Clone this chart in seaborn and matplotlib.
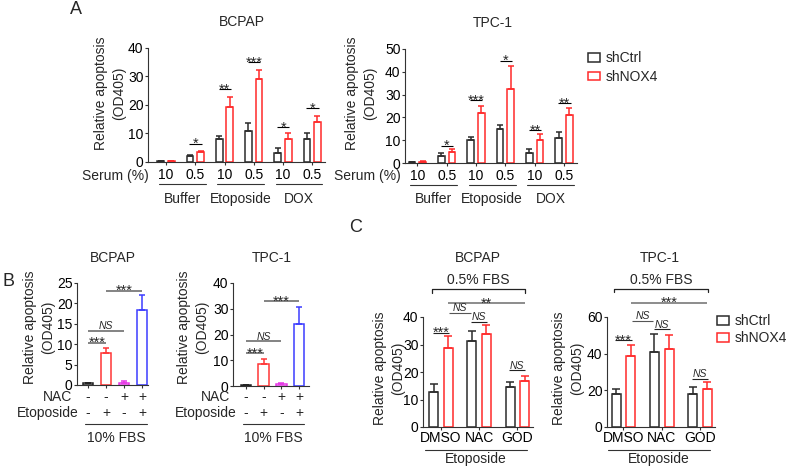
import numpy as np
import pandas as pd
import matplotlib
matplotlib.use("Agg")
import matplotlib.pyplot as plt
import seaborn as sns
from matplotlib.patches import Patch

# ---------------- DATA ----------------
genotypes = ["shCtrl", "shNOX4"]
geno_colors = {"shCtrl": "#2b2b2b", "shNOX4": "#ff2a2a"}

a_groups = ["Buffer 10", "Buffer 0.5", "Etoposide 10", "Etoposide 0.5", "DOX 10", "DOX 0.5"]
a_serum = ["10", "0.5", "10", "0.5", "10", "0.5"]
a_treat = ["Buffer", "Etoposide", "DOX"]

a_bcpap_ctrl = [0.4, 2.1, 7.9, 11.0, 3.2, 8.2]
a_bcpap_ctrl_err = [0.1, 0.3, 1.2, 2.8, 1.7, 1.8]
a_bcpap_nox4 = [0.3, 3.5, 19.2, 29.2, 8.0, 14.0]
a_bcpap_nox4_err = [0.1, 0.2, 3.6, 3.1, 2.0, 2.0]
a_bcpap_sig = ["", "*", "**", "***", "*", "*"]
a_bcpap_sig_y = [0, 6.4, 25.5, 35.1, 12.2, 18.8]

a_tpc_ctrl = [0.4, 3.0, 10.0, 15.0, 4.2, 11.0]
a_tpc_ctrl_err = [0.2, 1.2, 1.3, 1.5, 1.8, 2.6]
a_tpc_nox4 = [0.5, 4.9, 21.8, 32.6, 9.9, 20.9]
a_tpc_nox4_err = [0.5, 1.4, 3.3, 9.8, 2.7, 3.2]
a_tpc_sig = ["", "*", "***", "*", "**", "**"]
a_tpc_sig_y = [0, 7.6, 27.6, 44.9, 14.5, 26.3]

b_conds = ["ctrl", "eto", "nac", "nac_eto"]
b_nac = ["-", "-", "+", "+"]
b_eto = ["-", "+", "-", "+"]
b_colors = ["#222222", "#ff3636", "#e636e6", "#3c3cff"]
b_bcpap_vals = [0.5, 7.9, 0.6, 18.5]
b_bcpap_err = [0.1, 1.1, 0.3, 3.5]
b_bcpap_sig = [(0, 1, "***", 10.4), (0, 2, "NS", 13.3), (1, 3, "***", 23.1)]
b_tpc_vals = [0.3, 8.7, 0.6, 23.9]
b_tpc_err = [0.1, 1.6, 0.4, 6.6]
b_tpc_sig = [(0, 1, "***", 12.8), (0, 2, "NS", 17.3), (1, 3, "***", 33.0)]

c_groups = ["DMSO", "NAC", "GOD"]
c_bcpap_ctrl = [12.8, 31.4, 14.6]
c_bcpap_ctrl_err = [2.9, 3.6, 1.6]
c_bcpap_nox4 = [28.6, 33.9, 16.9]
c_bcpap_nox4_err = [4.5, 3.3, 1.7]
c_bcpap_sig = {"within": [("***", 34.3), ("NS", 38.2), ("NS", 20.6)],
               "cross": ("NS", 41.4), "long": ("**", 45.0), "bracket": 50.2}
c_tpc_ctrl = [18.0, 40.8, 17.8]
c_tpc_ctrl_err = [2.5, 10.2, 4.1]
c_tpc_nox4 = [39.0, 42.8, 20.8]
c_tpc_nox4_err = [6.0, 7.6, 3.7]
c_tpc_sig = {"within": [("***", 47.3), ("NS", 53.2), ("NS", 26.1)],
             "cross": ("NS", 57.8), "long": ("***", 67.8), "bracket": 75.5}

# ---------------- STYLE ----------------
sns.set_style("ticks")
plt.rcParams["font.family"] = ["Liberation Sans", "DejaVu Sans"]
plt.rcParams["axes.linewidth"] = 0.8
plt.rcParams["axes.edgecolor"] = "#333333"
plt.rcParams["xtick.color"] = "#333333"
plt.rcParams["ytick.color"] = "#333333"
plt.rcParams["xtick.labelcolor"] = "black"
plt.rcParams["ytick.labelcolor"] = "black"

W, H = 788, 466
fig = plt.figure(figsize=(W / 100, H / 100), dpi=100)
FS = 10


def add_ax(box):
    l, t, r, b = box
    return fig.add_axes([l / W, 1 - b / H, (r - l) / W, (b - t) / H])


def ftext(x, y, s, **kw):
    fig.text(x / W, 1 - y / H, s, **kw)


def yfrac(box, y):
    l, t, r, b = box
    return (b - y) / (b - t)


def style_axes(ax, ymax, ystep, xlim):
    ax.set_ylim(0, ymax)
    ax.set_yticks(np.arange(0, ymax + 0.01, ystep))
    ax.set_xlim(*xlim)
    ax.set_xlabel("")
    ax.set_ylabel("")
    sns.despine(ax=ax)
    ax.tick_params(axis="both", labelsize=FS, length=2.2, width=0.8, pad=1)


def sig_line(ax, x0, x1, y, label, color="black", lw=0.8):
    ax.plot([x0, x1], [y, y], color=color, lw=lw, clip_on=False,
            solid_capstyle="butt")
    xc = (x0 + x1) / 2
    if label == "NS":
        ax.annotate("NS", xy=(xc, y), xytext=(0, 1.2), textcoords="offset points",
                    ha="center", va="baseline", fontsize=7.5, style="italic",
                    annotation_clip=False)
    elif label:
        ax.annotate(label, xy=(xc, y), xytext=(0, -3.2), textcoords="offset points",
                    ha="center", va="baseline", fontsize=10.5, annotation_clip=False)


def bar_centers(ax):
    out = []
    for cont in ax.containers:
        pts = sorted([(p.get_x() + p.get_width() / 2, p.get_height()) for p in cont.patches])
        out.append(pts)
    return out


def add_errbars(ax, centers, errs, colors, capsize, lw=1.1):
    for pts, err, col in zip(centers, errs, colors):
        xs = [p[0] for p in pts]
        ys = [p[1] for p in pts]
        ax.errorbar(xs, ys, yerr=[np.zeros(len(err)), err], fmt="none", ecolor=col,
                    elinewidth=lw, capsize=capsize, capthick=lw, clip_on=False, zorder=3)


# ---------------- PANEL A ----------------
def panel_a(box, title, title_xy, ylab_xy, ctrl, ctrl_err, nox4, nox4_err, sig, sig_y,
            ymax, ystep, xlim, serum_x):
    ax = add_ax(box)
    df = pd.DataFrame({"group": a_groups * 2,
                       "genotype": ["shCtrl"] * 6 + ["shNOX4"] * 6,
                       "value": ctrl + nox4})
    sns.barplot(data=df, x="group", y="value", hue="genotype", order=a_groups,
                hue_order=genotypes, palette=geno_colors, saturation=1, fill=False,
                width=0.72, gap=0.36, errorbar=None, linewidth=1.1, legend=False, ax=ax)
    style_axes(ax, ymax, ystep, xlim)
    ax.set_xticks(range(len(a_groups)))
    ax.set_xticklabels(a_serum)
    ax.tick_params(axis="x", pad=2)
    cen = bar_centers(ax)
    add_errbars(ax, cen, [ctrl_err, nox4_err], [geno_colors[g] for g in genotypes], 2.2)
    for i, (s, y) in enumerate(zip(sig, sig_y)):
        if s:
            sig_line(ax, cen[0][i][0] - 0.02, cen[1][i][0] + 0.04, y, s)
    trans = ax.get_xaxis_transform()
    yl = yfrac(box, 184.5)
    yt = yfrac(box, 199)
    for k, name in enumerate(a_treat):
        x0, x1 = 2 * k - 0.25, 2 * k + 1 + 0.35
        ax.plot([x0, x1], [yl, yl], color="#333333", lw=0.8, transform=trans, clip_on=False)
        ax.text((x0 + x1) / 2, yt, name, transform=trans, ha="center", va="center", fontsize=FS)
    ftext(serum_x, 176, "Serum (%)", ha="right", va="center", fontsize=FS)
    ftext(*title_xy, title, ha="center", va="center", fontsize=FS)
    ftext(*ylab_xy, "Relative apoptosis\n(OD405)", ha="center", va="center",
          rotation=90, fontsize=FS, linespacing=1.35)
    return ax


A1 = (148, 48, 325, 162)
A2 = (405, 49, 577, 163)
panel_a(A1, "BCPAP", (242, 22), (110, 93), a_bcpap_ctrl, a_bcpap_ctrl_err, a_bcpap_nox4,
        a_bcpap_nox4_err, a_bcpap_sig, a_bcpap_sig_y, 40, 10, (-0.62, 5.44), 149)
panel_a(A2, "TPC-1", (493, 23), (361, 93), a_tpc_ctrl, a_tpc_ctrl_err, a_tpc_nox4,
        a_tpc_nox4_err, a_tpc_sig, a_tpc_sig_y, 50, 10, (-0.42, 5.44), 401)


# ---------------- PANEL B ----------------
def panel_b(box, title, title_xy, ylab_xy, vals, err, sig, ymax, ystep, xlim, nac_x, eto_x):
    ax = add_ax(box)
    df = pd.DataFrame({"cond": b_conds, "value": vals})
    sns.barplot(data=df, x="cond", y="value", hue="cond", order=b_conds, hue_order=b_conds,
                palette=b_colors, saturation=1, fill=False, width=0.6, errorbar=None,
                linewidth=1.1, legend=False, ax=ax)
    style_axes(ax, ymax, ystep, xlim)
    ax.set_xticks(range(len(b_conds)))
    ax.tick_params(axis="x", labelbottom=False)
    pts = []
    for cont in ax.containers:
        for p in cont.patches:
            pts.append((p.get_x() + p.get_width() / 2, p.get_height()))
    pts = sorted(pts)
    for (x, y), e, c in zip(pts, err, b_colors):
        ax.errorbar([x], [y], yerr=[[0], [e]], fmt="none", ecolor=c, elinewidth=1.1,
                    capsize=2.4, capthick=1.1, clip_on=False, zorder=3)
    for i, j, s, y in sig:
        sig_line(ax, pts[i][0], pts[j][0], y, s, color="#7a7a7a", lw=1.3)
    trans = ax.get_xaxis_transform()
    for k in range(len(b_conds)):
        ax.text(k, yfrac(box, 396.7), b_nac[k], transform=trans, ha="center", va="center", fontsize=FS)
        ax.text(k, yfrac(box, 413.3), b_eto[k], transform=trans, ha="center", va="center", fontsize=FS)
    ylin = yfrac(box, 424)
    ax.plot([-0.15, 3.25], [ylin, ylin], color="#333333", lw=0.8, transform=trans, clip_on=False)
    ax.text(1.55, yfrac(box, 438.5), "10% FBS", transform=trans, ha="center", va="center", fontsize=FS)
    ftext(nac_x, 396.7, "NAC", ha="right", va="center", fontsize=FS)
    ftext(eto_x, 413.3, "Etoposide", ha="right", va="center", fontsize=FS)
    ftext(*title_xy, title, ha="center", va="center", fontsize=FS)
    ftext(*ylab_xy, "Relative apoptosis\n(OD405)", ha="center", va="center",
          rotation=90, fontsize=FS, linespacing=1.35)
    return ax


B1 = (77, 283, 148, 385)
B2 = (233, 283, 309, 386)
panel_b(B1, "BCPAP", (113, 258), (39, 327), b_bcpap_vals, b_bcpap_err, b_bcpap_sig,
        25, 5, (-0.61, 3.33), 72, 79)
panel_b(B2, "TPC-1", (272, 258), (193, 327), b_tpc_vals, b_tpc_err, b_tpc_sig,
        40, 10, (-0.73, 3.56), 230, 237)


# ---------------- PANEL C ----------------
def panel_c(box, title, title_xy, ylab_xy, ctrl, ctrl_err, nox4, nox4_err, sig,
            ymax, ystep, xlim):
    ax = add_ax(box)
    df = pd.DataFrame({"group": c_groups * 2,
                       "genotype": ["shCtrl"] * 3 + ["shNOX4"] * 3,
                       "value": ctrl + nox4})
    sns.barplot(data=df, x="group", y="value", hue="genotype", order=c_groups,
                hue_order=genotypes, palette=geno_colors, saturation=1, fill=False,
                width=0.76, gap=0.38, errorbar=None, linewidth=1.1, legend=False, ax=ax)
    style_axes(ax, ymax, ystep, xlim)
    ax.set_xticks(range(len(c_groups)))
    ax.set_xticklabels(c_groups)
    cen = bar_centers(ax)
    add_errbars(ax, cen, [ctrl_err, nox4_err], [geno_colors[g] for g in genotypes], 2.8)
    for i, (s, y) in enumerate(sig["within"]):
        sig_line(ax, cen[0][i][0] - 0.02, cen[1][i][0] + 0.02, y, s, color="#222222")
    s, y = sig["cross"]
    sig_line(ax, cen[1][0][0] + 0.03, cen[0][1][0] - 0.03, y, s, color="#555555")
    s, y = sig["long"]
    sig_line(ax, cen[1][0][0], cen[1][2][0], y, s, color="#6e6e6e", lw=1.1)
    yb = sig["bracket"]
    x0, x1 = cen[0][0][0] - 0.05, cen[1][2][0] + 0.02
    dy = ymax * 0.035
    ax.plot([x0, x0, x1, x1], [yb - dy, yb, yb, yb - dy], color="#222222", lw=0.9,
            clip_on=False)
    ax.annotate("0.5% FBS", xy=((x0 + x1) / 2, yb), xytext=(0, 6.5),
                textcoords="offset points", ha="center", va="center", fontsize=FS,
                annotation_clip=False)
    trans = ax.get_xaxis_transform()
    ylin = yfrac(box, 450)
    ax.plot([-0.41, 2.25], [ylin, ylin], color="#333333", lw=0.8, transform=trans, clip_on=False)
    ax.text(0.92, yfrac(box, 459.5), "Etoposide", transform=trans, ha="center", va="center",
            fontsize=FS)
    ftext(*title_xy, title, ha="center", va="center", fontsize=FS)
    ftext(*ylab_xy, "Relative apoptosis\n(OD405)", ha="center", va="center",
          rotation=90, fontsize=FS, linespacing=1.35)
    return ax


C1 = (423, 317, 533, 427)
C2 = (607, 317, 715, 427)
panel_c(C1, "BCPAP", (478, 258), (389, 368), c_bcpap_ctrl, c_bcpap_ctrl_err, c_bcpap_nox4,
        c_bcpap_nox4_err, c_bcpap_sig, 40, 10, (-0.47, 2.41))
panel_c(C2, "TPC-1", (660, 258), (568, 368), c_tpc_ctrl, c_tpc_ctrl_err, c_tpc_nox4,
        c_tpc_nox4_err, c_tpc_sig, 60, 20, (-0.43, 2.39))

# ---------------- LEGENDS ----------------
handles = [Patch(facecolor="white", edgecolor=geno_colors[g], linewidth=1.1) for g in genotypes]
for (lx, ly, sp) in [(588, 51, 0.35), (717, 314, 0.25)]:
    fig.legend(handles, genotypes, loc="upper left", bbox_to_anchor=(lx / W, 1 - ly / H),
               frameon=False, fontsize=FS, borderaxespad=0, borderpad=0,
               handlelength=0.85, handleheight=0.6, handletextpad=0.45, labelspacing=sp)

# ---------------- PANEL LETTERS ----------------
ftext(76, 9, "A", ha="center", va="center", fontsize=13)
ftext(9, 282, "B", ha="center", va="center", fontsize=13)
ftext(356, 228, "C", ha="center", va="center", fontsize=13)

fig.savefig("out.png", dpi=100)
